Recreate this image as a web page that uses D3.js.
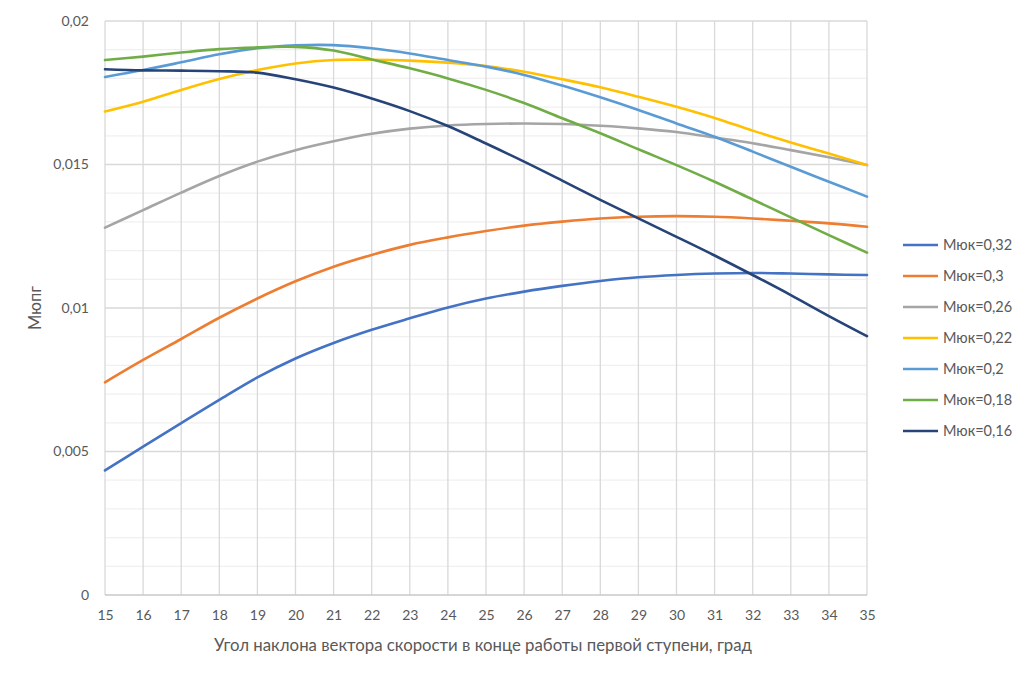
<!DOCTYPE html>
<html>
<head>
<meta charset="utf-8">
<script src="https://cdn.jsdelivr.net/npm/d3@7"></script>
<style>
  body { margin: 0; background: #fff; }
  text { font-family: "Lato", "Open Sans", sans-serif; fill: #595959; }
</style>
</head>
<body>
<div id="chart"></div>
<script>
// Data (values in thousandths)
const angles = d3.range(15, 36);
const seriesNames = ["Мюк=0,32", "Мюк=0,3", "Мюк=0,26", "Мюк=0,22", "Мюк=0,2", "Мюк=0,18", "Мюк=0,16"];
const mu032 = [4.34, 5.17, 5.99, 6.8, 7.58, 8.24, 8.78, 9.24, 9.64, 10.02, 10.33, 10.57, 10.77, 10.94, 11.07, 11.15, 11.2, 11.22, 11.2, 11.17, 11.15];
const mu030 = [7.41, 8.19, 8.92, 9.66, 10.33, 10.93, 11.44, 11.85, 12.2, 12.46, 12.68, 12.87, 13.01, 13.12, 13.18, 13.2, 13.18, 13.12, 13.04, 12.95, 12.83];
const mu026 = [12.8, 13.41, 14.02, 14.6, 15.1, 15.5, 15.81, 16.07, 16.25, 16.36, 16.41, 16.43, 16.41, 16.35, 16.26, 16.13, 15.94, 15.74, 15.5, 15.25, 14.98];
const mu022 = [16.85, 17.19, 17.6, 17.98, 18.29, 18.52, 18.64, 18.65, 18.62, 18.55, 18.43, 18.23, 17.97, 17.69, 17.36, 17.01, 16.62, 16.18, 15.77, 15.38, 14.98];
const mu020 = [18.05, 18.29, 18.56, 18.84, 19.05, 19.15, 19.16, 19.05, 18.87, 18.64, 18.41, 18.12, 17.75, 17.34, 16.9, 16.43, 15.97, 15.45, 14.92, 14.4, 13.88];
const mu018 = [18.64, 18.76, 18.9, 19.02, 19.08, 19.1, 18.97, 18.66, 18.35, 18.0, 17.6, 17.14, 16.61, 16.09, 15.53, 14.98, 14.4, 13.78, 13.16, 12.54, 11.93];
const mu016 = [18.32, 18.28, 18.27, 18.25, 18.2, 17.97, 17.68, 17.3, 16.86, 16.34, 15.73, 15.1, 14.44, 13.77, 13.12, 12.48, 11.83, 11.15, 10.45, 9.72, 9.02];
const yTicks = [0, 0.005, 0.01, 0.015, 0.02];
const yTickLabels = ["0", "0,005", "0,01", "0,015", "0,02"];
const colors = ["#4472C4", "#ED7D31", "#A5A5A5", "#FFC000", "#5B9BD5", "#70AD47", "#264478"];

const allSeries = [mu032, mu030, mu026, mu022, mu020, mu018, mu016].map((vals, i) => ({
  name: seriesNames[i],
  color: colors[i],
  points: vals.map((v, j) => [angles[j], v / 1000])
}));

const width = 1033;
const height = 677;
const margin = { top: 21, bottom: 82, left: 105, right: 166 };

const svg = d3.select("#chart").append("svg")
  .attr("width", width)
  .attr("height", height);

const x = d3.scaleLinear().domain([15, 35]).range([margin.left, width - margin.right]);
const y = d3.scaleLinear().domain([0, 0.02]).range([height - margin.bottom, margin.top]);

// Grid: minor horizontal lines
svg.append("g")
  .selectAll("line")
  .data(d3.range(0, 21).map(d => d / 1000).filter((d, i) => i % 5 !== 0))
  .join("line")
  .attr("x1", x(15)).attr("x2", x(35))
  .attr("y1", d => y(d)).attr("y2", d => y(d))
  .attr("stroke", "#f0f0f0").attr("stroke-width", 1.2);

// Vertical grid
svg.append("g")
  .selectAll("line")
  .data(angles)
  .join("line")
  .attr("x1", d => x(d)).attr("x2", d => x(d))
  .attr("y1", y(0)).attr("y2", y(0.02))
  .attr("stroke", "#d9d9d9").attr("stroke-width", 1.3);

// Major horizontal lines
svg.append("g")
  .selectAll("line")
  .data(yTicks)
  .join("line")
  .attr("x1", x(15)).attr("x2", x(35))
  .attr("y1", d => y(d)).attr("y2", d => y(d))
  .attr("stroke", d => d === 0 ? "#c8c8c8" : "#d9d9d9").attr("stroke-width", 1.3);

// Y axis labels
const yAxis = d3.axisLeft(y)
  .tickValues(yTicks)
  .tickFormat((d, i) => yTickLabels[i])
  .tickSize(0)
  .tickPadding(16);
svg.append("g")
  .attr("transform", `translate(${x(15)},0)`)
  .call(yAxis)
  .call(g => g.select(".domain").remove())
  .selectAll("text")
  .attr("font-size", 14)
  .attr("font-family", "Lato, 'Open Sans', sans-serif")
  .attr("fill", "#595959");

// X axis labels
const xAxis = d3.axisBottom(x)
  .tickValues(angles)
  .tickFormat(d3.format("d"))
  .tickSize(0)
  .tickPadding(15);
svg.append("g")
  .attr("transform", `translate(0,${y(0)})`)
  .call(xAxis)
  .call(g => g.select(".domain").remove())
  .selectAll("text")
  .attr("font-size", 14)
  .attr("font-family", "Lato, 'Open Sans', sans-serif")
  .attr("fill", "#595959");

// Axis titles
svg.append("text")
  .attr("x", 483)
  .attr("y", 651)
  .attr("text-anchor", "middle")
  .attr("font-size", 16.8)
  .text("Угол наклона вектора скорости в конце работы первой ступени, град");

svg.append("text")
  .attr("transform", `translate(41,${(y(0) + y(0.02)) / 2}) rotate(-90)`)
  .attr("text-anchor", "middle")
  .attr("font-size", 16.5)
  .text("Мюпг");

// Lines
const line = d3.line()
  .x(d => x(d[0]))
  .y(d => y(d[1]))
  .curve(d3.curveCatmullRom.alpha(0.5));

svg.append("g")
  .selectAll("path")
  .data(allSeries)
  .join("path")
  .attr("d", d => line(d.points))
  .attr("fill", "none")
  .attr("stroke", d => d.color)
  .attr("stroke-width", 2.6)
  .attr("stroke-linecap", "round");

// Legend
const legend = svg.append("g").attr("transform", "translate(903,245)");
const item = legend.selectAll("g")
  .data(allSeries)
  .join("g")
  .attr("transform", (d, i) => `translate(0,${i * 31})`);
item.append("line")
  .attr("x1", 0).attr("x2", 35)
  .attr("stroke", d => d.color)
  .attr("stroke-width", 2.6);
item.append("text")
  .attr("x", 40)
  .attr("dy", "0.35em")
  .attr("font-size", 14.5)
  .text(d => d.name);
</script>
</body>
</html>
